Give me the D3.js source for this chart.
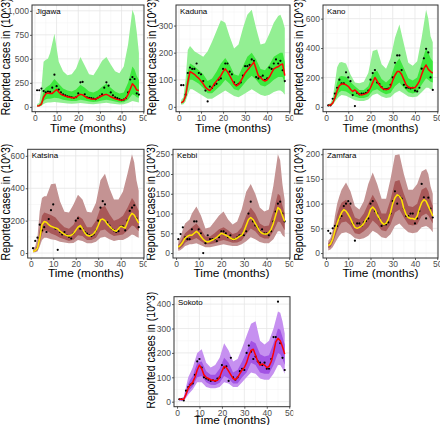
<!DOCTYPE html>
<html><head><meta charset="utf-8">
<script src="https://cdn.jsdelivr.net/npm/d3@7"></script>
<style>
body{margin:0;background:#fff}
svg{display:block}
text{font-family:"Liberation Sans",Arial,Helvetica,sans-serif}
</style>
</head><body>
<svg id="c" width="440" height="425"></svg>
<script>
// ---------------- DATA ----------------
const months = [1,2,3,4,5,6,7,8,9,10,11,12,13,14,15,16,17,18,19,20,21,22,23,24,25,26,27,28,29,30,31,32,33,34,35,36,37,38,39,40,41,42,43,44,45,46,47,48];
const bandMonths = [1,2,3,4,5,6,7,9,11,13,15,17,19,21,23,25,27,29,31,33,35,37,39,41,43,45,46,47,48];
const xTicks = [0,10,20,30,40,50];
const states = ["Jigawa","Kaduna","Kano","Katsina","Kebbi","Zamfara","Sokoto"];

// Jigawa
const jigawaObs    = [173,173,190,165,150,160,155,200,335,215,180,150,130,120,110,105,100,95,100,140,255,260,130,100,95,90,85,80,95,110,130,200,255,220,150,120,100,90,80,70,75,90,150,285,310,290,140,128];
const jigawaMedian = [10,12,30,100,135,145,140,140,160,180,155,130,120,112,105,100,95,95,100,120,130,125,110,95,88,82,80,82,92,105,115,125,130,120,105,95,85,78,72,70,75,90,130,185,240,215,175,170];
const jigawaOuterHi= [30,40,200,470,490,500,560,760,470,370,330,340,400,520,430,340,330,400,480,520,440,370,350,420,650,1010,950,780,560];
const jigawaOuterLo= [2,3,8,30,40,45,45,50,45,40,35,32,35,40,35,30,28,32,38,42,35,30,25,28,40,60,55,50,45];
const jigawaInnerHi= [15,18,60,170,200,215,230,290,240,190,170,160,180,230,200,160,150,170,210,240,200,160,140,150,250,420,390,320,280];
const jigawaInnerLo= [5,6,15,60,80,85,85,95,90,75,65,60,62,75,65,55,50,55,65,75,65,55,45,48,75,130,120,100,95];
const jigawaTicks  = [0,250,500,750,1000];

// Kaduna
const kadunaObs    = [80,80,45,125,145,140,140,160,125,120,95,60,20,75,70,80,85,100,105,140,160,160,130,120,90,80,85,90,115,150,150,155,175,170,110,105,110,115,100,105,145,140,160,175,160,170,135,95];
const kadunaMedian = [15,20,40,90,130,125,120,112,105,95,85,72,65,60,70,85,95,105,115,130,140,130,115,100,85,78,82,95,110,125,135,145,155,165,140,115,108,100,95,100,110,125,140,145,148,155,158,115];
const kadunaOuterHi= [25,35,100,210,225,215,205,195,185,205,240,280,320,310,260,215,230,290,340,358,290,230,235,270,310,335,340,320,290];
const kadunaOuterLo= [8,10,20,45,65,65,60,50,40,30,30,40,50,60,50,40,35,45,55,65,55,45,40,45,55,60,60,55,45];
const kadunaInnerHi= [18,25,60,130,160,155,150,135,120,95,105,130,160,180,155,120,115,150,185,200,175,140,135,155,185,195,200,200,165];
const kadunaInnerLo= [12,15,30,65,100,100,95,85,70,50,50,65,80,100,85,65,60,80,100,115,100,80,75,85,100,110,110,110,85];
const kadunaTicks  = [0,100,200,300];

// Kano
const kanoObs      = [10,10,55,90,130,185,160,160,235,200,175,80,5,95,85,90,90,95,110,185,230,250,165,155,135,120,120,125,150,200,300,350,350,250,150,130,130,125,130,110,105,130,260,330,395,370,200,115];
const kanoMedian   = [10,12,25,60,110,145,155,155,150,140,120,105,115,100,85,80,85,90,100,130,165,200,175,150,130,120,118,120,135,180,215,240,240,220,185,150,135,130,130,130,150,175,220,260,285,255,240,230];
const kanoOuterHi  = [20,25,60,160,270,300,305,295,220,165,160,170,230,380,390,290,260,330,470,560,430,300,280,310,470,660,600,480,440];
const kanoOuterLo  = [3,5,12,35,55,70,80,75,60,45,40,40,50,80,90,70,60,65,95,110,90,70,65,70,100,130,130,120,115];
const kanoInnerHi  = [14,16,35,95,165,205,210,205,170,140,115,115,140,230,245,190,165,195,290,330,265,195,180,200,300,400,370,330,310];
const kanoInnerLo  = [6,8,18,45,75,100,110,105,85,70,60,60,70,110,120,100,85,95,140,165,130,100,90,100,150,195,185,170,165];
const kanoTicks    = [0,200,400,600];

// Katsina
const katsinaObs   = [30,75,95,175,140,160,130,210,265,300,150,20,130,115,130,110,100,90,120,200,215,150,150,130,120,110,105,115,140,200,280,320,300,190,170,150,140,130,135,165,165,140,200,260,280,295,215,160];
const katsinaMedian= [10,15,30,90,175,195,190,175,165,160,155,150,135,125,115,108,105,110,120,140,160,170,150,125,110,105,110,120,140,170,205,210,200,180,165,150,140,135,150,165,160,155,190,225,245,235,210,185];
const katsinaOuterHi=[30,40,100,260,340,350,350,425,430,320,255,250,300,360,330,255,250,310,450,490,400,330,330,380,490,610,560,450,385];
const katsinaOuterLo=[3,5,10,40,80,95,95,85,80,70,65,60,62,80,75,60,60,70,95,100,85,75,80,80,95,115,110,100,95];
const katsinaInnerHi=[15,22,50,150,230,250,245,235,220,185,160,150,175,230,210,160,160,200,280,290,240,200,210,230,280,340,320,290,260];
const katsinaInnerLo=[6,9,18,60,120,140,140,120,110,95,85,75,82,110,105,80,80,95,140,145,120,105,110,115,140,170,165,150,135];
const katsinaTicks = [0,200,400,600];

// Kebbi
const kebbiObs     = [35,48,65,40,35,35,60,80,80,60,50,0,25,45,35,35,35,30,40,55,55,50,40,45,35,35,40,45,45,45,55,100,130,80,70,65,55,60,50,50,45,55,80,105,125,130,100,80];
const kebbiMedian  = [15,20,28,38,42,45,45,50,55,50,42,35,30,28,30,33,36,40,45,50,48,45,42,38,35,35,38,42,45,55,70,85,90,85,75,65,55,50,48,48,52,60,75,95,115,110,95,80];
const kebbiOuterHi = [30,40,60,75,80,85,100,118,95,62,65,80,95,105,85,72,80,110,155,175,150,115,105,110,170,250,235,175,135];
const kebbiOuterLo = [5,8,12,18,20,22,22,25,20,15,15,17,20,22,20,18,18,22,30,40,35,28,25,25,35,55,55,45,40];
const kebbiInnerHi = [22,28,40,50,55,60,65,75,60,42,42,50,60,65,58,48,52,65,95,115,100,75,68,70,105,150,145,120,100];
const kebbiInnerLo = [9,13,18,26,30,32,33,38,30,22,22,25,30,33,30,26,27,32,48,62,55,42,37,37,55,80,78,68,58];
const kebbiTicks   = [0,50,100,150,200,250];

// Zamfara
const zamfaraObs   = [45,40,50,55,55,70,75,95,100,105,100,60,25,60,60,55,62,65,70,100,105,85,80,70,55,58,58,62,80,105,125,100,115,110,90,75,75,80,80,60,70,85,140,113,70,112,90,72];
const zamfaraMedian= [15,18,28,45,60,72,82,88,85,78,70,60,52,50,52,55,60,68,75,88,93,88,78,70,62,58,60,68,82,100,112,118,115,108,90,78,72,70,70,68,75,90,102,108,105,95,85,75];
const zamfaraOuterHi=[25,30,45,75,100,115,128,143,125,95,88,105,140,163,140,110,110,150,198,200,160,128,128,140,165,170,160,135,120];
const zamfaraOuterLo=[5,7,12,20,28,35,40,42,38,30,28,30,35,45,40,32,30,38,55,60,50,42,40,42,52,55,52,48,42];
const zamfaraInnerHi=[20,24,36,58,78,92,102,108,96,72,68,80,100,118,102,80,80,108,145,148,120,95,93,100,128,133,125,108,95];
const zamfaraInnerLo=[10,12,20,32,44,55,62,64,56,40,38,44,52,66,58,46,44,58,82,88,72,58,56,58,75,80,76,68,60];
const zamfaraTicks = [0,50,100,150,200];

// Sokoto
const sokotoObs    = [10,10,5,45,60,70,75,110,165,175,140,100,95,90,85,88,85,95,100,150,140,145,85,180,100,90,100,125,135,130,200,230,205,175,185,165,160,150,160,135,135,175,265,265,410,240,180,130];
const sokotoMedian = [10,10,10,30,55,70,80,100,130,150,135,110,100,95,90,88,85,88,100,125,145,140,125,110,95,90,100,115,130,140,160,190,210,215,190,165,150,155,150,140,145,165,200,245,260,250,225,195];
const sokotoOuterHi= [15,15,20,60,100,120,140,200,215,160,140,150,180,240,210,165,175,220,270,320,330,250,235,250,300,370,365,330,280];
const sokotoOuterLo= [3,3,3,15,30,40,50,80,80,60,55,55,60,80,75,60,60,80,100,120,115,95,90,90,115,150,150,135,115];
const sokotoInnerHi= [12,12,14,45,75,92,105,160,165,125,110,110,135,180,160,120,130,165,205,250,240,195,185,190,240,300,295,265,235];
const sokotoInnerLo= [7,7,7,22,42,52,62,100,105,80,70,68,78,105,95,75,75,100,120,160,150,120,115,115,150,200,195,175,150];
const sokotoTicks  = [0,100,200,300,400];

// ---------------- STYLE / LAYOUT ----------------
const green  = {outer:"#93ef93", inner:"#3de83d", line:"#ff0000"};
const brown  = {outer:"#c49393", inner:"#a85858", line:"#ffe600"};
const purple = {outer:"#c690f0", inner:"#a253e4", line:"#ff0000"};

const panels = [
  {name:states[0], obs:jigawaObs,  med:jigawaMedian,  oHi:jigawaOuterHi,  oLo:jigawaOuterLo,  iHi:jigawaInnerHi,  iLo:jigawaInnerLo,  ticks:jigawaTicks,  col:green},
  {name:states[1], obs:kadunaObs,  med:kadunaMedian,  oHi:kadunaOuterHi,  oLo:kadunaOuterLo,  iHi:kadunaInnerHi,  iLo:kadunaInnerLo,  ticks:kadunaTicks,  col:green},
  {name:states[2], obs:kanoObs,    med:kanoMedian,    oHi:kanoOuterHi,    oLo:kanoOuterLo,    iHi:kanoInnerHi,    iLo:kanoInnerLo,    ticks:kanoTicks,    col:green},
  {name:states[3], obs:katsinaObs, med:katsinaMedian, oHi:katsinaOuterHi, oLo:katsinaOuterLo, iHi:katsinaInnerHi, iLo:katsinaInnerLo, ticks:katsinaTicks, col:brown},
  {name:states[4], obs:kebbiObs,   med:kebbiMedian,   oHi:kebbiOuterHi,   oLo:kebbiOuterLo,   iHi:kebbiInnerHi,   iLo:kebbiInnerLo,   ticks:kebbiTicks,   col:brown},
  {name:states[5], obs:zamfaraObs, med:zamfaraMedian, oHi:zamfaraOuterHi, oLo:zamfaraOuterLo, iHi:zamfaraInnerHi, iLo:zamfaraInnerLo, ticks:zamfaraTicks, col:brown},
  {name:states[6], obs:sokotoObs,  med:sokotoMedian,  oHi:sokotoOuterHi,  oLo:sokotoOuterLo,  iHi:sokotoInnerHi,  iLo:sokotoInnerLo,  ticks:sokotoTicks,  col:purple}
];

const layout = [
  {l:32,  r:144, t:5,     b:111.7, cx0:0,     cx1:146.7, cy0:0,     cy1:141.7, tx:6,   xt:20},
  {l:176, r:290, t:5,     b:111.7, cx0:146.7, cx1:293.3, cy0:0,     cy1:141.7, tx:152, xt:20},
  {l:323, r:438, t:5,     b:111.7, cx0:293.3, cx1:440,   cy0:0,     cy1:141.7, tx:299, xt:20},
  {l:27.7,r:144, t:149.3, b:258,   cx0:0,     cx1:146.7, cy0:141.7, cy1:283.3, tx:6,   xt:19},
  {l:173, r:290, t:149.3, b:258,   cx0:146.7, cx1:293.3, cy0:141.7, cy1:283.3, tx:151, xt:19},
  {l:323, r:438, t:149.3, b:258,   cx0:293.3, cx1:440,   cy0:141.7, cy1:283.3, tx:299, xt:19},
  {l:174, r:290, t:296.7, b:406.7, cx0:146.7, cx1:293.3, cy0:283.3, cy1:425,   tx:151, xt:17}
];
const SX = 1.13; // horizontal stretch of text seen in the reference

const svg = d3.select("#c");
svg.append("rect").attr("width",440).attr("height",425).attr("fill","#fff");

panels.forEach((p,i)=>{
  const L = layout[i];
  const clipId = "cell"+i, pClip = "plot"+i;
  svg.append("clipPath").attr("id",clipId).append("rect")
    .attr("x",L.cx0).attr("y",L.cy0).attr("width",L.cx1-L.cx0).attr("height",L.cy1-L.cy0);
  svg.append("clipPath").attr("id",pClip).append("rect")
    .attr("x",L.l).attr("y",L.t).attr("width",L.r-L.l).attr("height",L.b-L.t);
  const g = svg.append("g").attr("clip-path",`url(#${clipId})`);

  const xMin = d3.min(months), xMax = d3.max(months), xPad = (xMax-xMin)*0.05;
  const x = d3.scaleLinear().domain([xMin-xPad, xMax+xPad]).range([L.l, L.r]);
  const yLo = Math.min(0, d3.min(p.obs)), yHi = d3.max([d3.max(p.oHi), d3.max(p.obs)]);
  const yPad = (yHi-yLo)*0.05;
  const y = d3.scaleLinear().domain([yLo-yPad, yHi+yPad]).range([L.b, L.t]);

  g.append("rect").attr("x",L.l).attr("y",L.t).attr("width",L.r-L.l).attr("height",L.b-L.t).attr("fill","#fff");

  // grid
  const gridG = g.append("g").attr("clip-path",`url(#${pClip})`);
  const yStep = p.ticks[1]-p.ticks[0];
  const yMinor = [];
  for (let k=-1;k<p.ticks.length;k++){ const v = p.ticks[0]+(k+0.5)*yStep; if (v>y.domain()[0] && v<y.domain()[1]) yMinor.push(v); }
  const xMinor = [];
  for (let k=-1;k<xTicks.length;k++){ const v = xTicks[0]+(k+0.5)*10; if (v>x.domain()[0] && v<x.domain()[1]) xMinor.push(v); }
  gridG.selectAll(".ymn").data(yMinor).join("line").attr("x1",L.l).attr("x2",L.r)
    .attr("y1",d=>y(d)).attr("y2",d=>y(d)).attr("stroke","#f2f2f2").attr("stroke-width",0.5);
  gridG.selectAll(".xmn").data(xMinor).join("line").attr("y1",L.t).attr("y2",L.b)
    .attr("x1",d=>x(d)).attr("x2",d=>x(d)).attr("stroke","#f2f2f2").attr("stroke-width",0.5);
  gridG.selectAll(".ymj").data(p.ticks).join("line").attr("x1",L.l).attr("x2",L.r)
    .attr("y1",d=>y(d)).attr("y2",d=>y(d)).attr("stroke","#e6e6e6").attr("stroke-width",0.8);
  gridG.selectAll(".xmj").data(xTicks).join("line").attr("y1",L.t).attr("y2",L.b)
    .attr("x1",d=>x(d)).attr("x2",d=>x(d)).attr("stroke","#e6e6e6").attr("stroke-width",0.8);

  // bands
  const plotG = g.append("g").attr("clip-path",`url(#${pClip})`);
  const area = (lo,hi)=> d3.area().x((d,j)=>x(bandMonths[j])).y0((d,j)=>y(lo[j])).y1((d,j)=>y(hi[j]));
  plotG.append("path").datum(p.oHi).attr("d",area(p.oLo,p.oHi)).attr("fill",p.col.outer);
  plotG.append("path").datum(p.iHi).attr("d",area(p.iLo,p.iHi)).attr("fill",p.col.inner);
  plotG.selectAll("circle").data(p.obs).join("circle")
    .attr("cx",(d,j)=>x(months[j])).attr("cy",d=>y(d)).attr("r",1.1).attr("fill","#000");
  plotG.append("path").datum(p.med)
    .attr("d",d3.line().x((d,j)=>x(months[j])).y(d=>y(d)))
    .attr("fill","none").attr("stroke",p.col.line).attr("stroke-width",1.5).attr("stroke-linejoin","round");

  // border
  g.append("rect").attr("x",L.l).attr("y",L.t).attr("width",L.r-L.l).attr("height",L.b-L.t)
    .attr("fill","none").attr("stroke","#333").attr("stroke-width",1);

  // axes
  const ax = g.append("g").attr("transform",`translate(0,${L.b})`)
    .call(d3.axisBottom(x).tickValues(xTicks).tickSize(2).tickPadding(0.8));
  const ay = g.append("g").attr("transform",`translate(${L.l},0)`)
    .call(d3.axisLeft(y).tickValues(p.ticks).tickSize(2).tickPadding(1));
  [ax,ay].forEach(a=>{
    a.select(".domain").remove();
    a.selectAll(".tick line").attr("stroke","#333").attr("stroke-width",0.8);
    a.selectAll(".tick text").attr("fill","#4d4d4d").style("font-size","8.5px")
      .style("font-family",'"Liberation Sans",Arial,sans-serif');
  });

  // titles
  g.append("text").attr("transform",`translate(${L.l+4},${L.t+8.5}) scale(${SX},1)`)
    .style("font-size","7px").attr("fill","#000").text(p.name);
  g.append("text").attr("transform",`translate(${(L.l+L.r)/2},${L.b+L.xt}) scale(${SX},1)`)
    .attr("text-anchor","middle").style("font-size","10.5px").attr("fill","#000").text("Time (months)");
  g.append("text").attr("transform",`translate(${L.tx},${(L.t+L.b)/2-1.5}) scale(${SX},1) rotate(-90)`)
    .attr("text-anchor","middle").attr("dominant-baseline","central")
    .style("font-size","10.5px").attr("fill","#000").text("Reported cases in (10^3)");
});
</script>
</body></html>
